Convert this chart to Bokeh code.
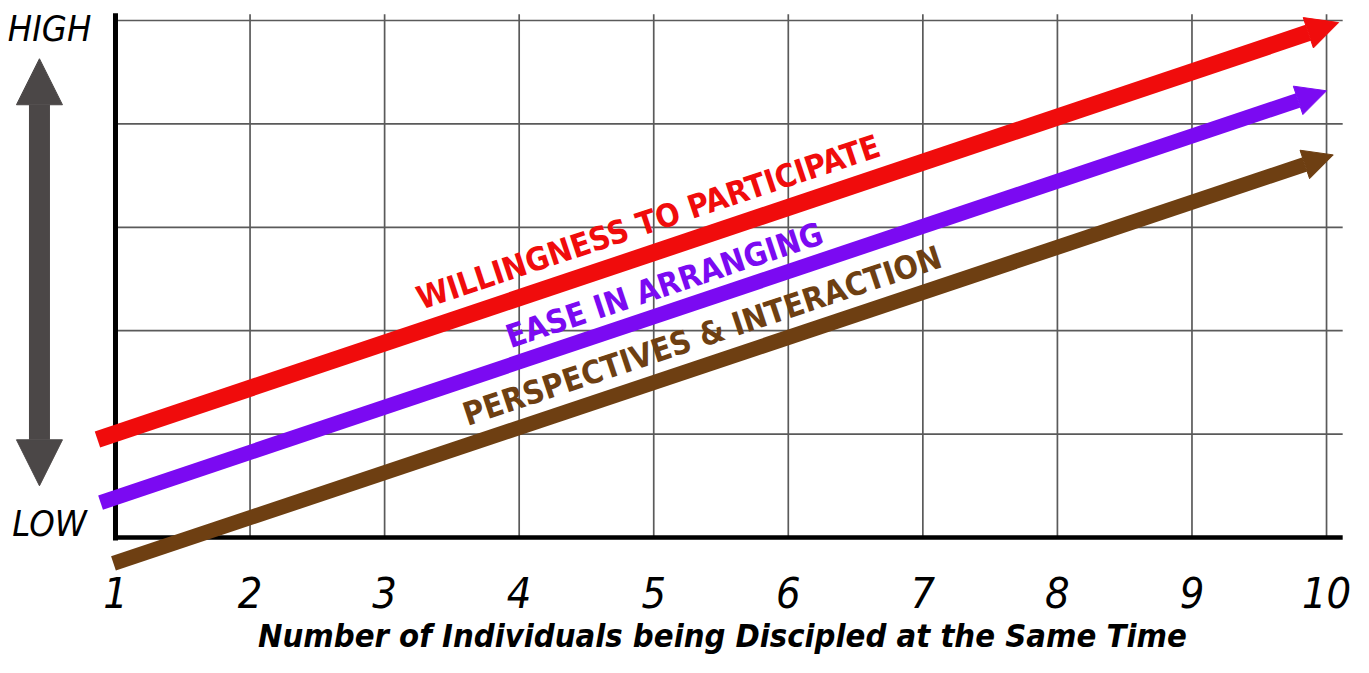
from bokeh.plotting import figure
from bokeh.models import Arrow, NormalHead, Range1d, ColumnDataSource
from bokeh.embed import file_html
from bokeh.resources import INLINE
from bokeh.core.properties import value

# ---- data ----
x_ticks = [1, 2, 3, 4, 5, 6, 7, 8, 9, 10]
tick_labels = ["1", "2", "3", "4", "5", "6", "7", "8", "9", "10"]
y_levels = [0, 1, 2, 3, 4, 5]

series_names = ["WILLINGNESS TO PARTICIPATE", "EASE IN ARRANGING", "PERSPECTIVES & INTERACTION"]
series_colors = ["#f00c0c", "#7b0af2", "#6e3f12"]
x_start = [0.866, 0.889, 0.985]
y_start = [0.948, 0.338, -0.251]
x_end = [10.09, 10.00, 10.05]
y_end = [4.98, 4.32, 3.70]
line_widths = [17, 15, 15]
head_sizes = [32, 30, 30]
label_x = [4.96, 5.08, 5.36]
label_y = [3.05, 2.44, 1.95]

level_labels = ["HIGH", "LOW"]
level_label_y = [4.927, 0.140]
x_title = "Number of Individuals being Discipled at the Same Time"

W, H = 1353, 657
p = figure(width=W, height=H, output_backend="svg", toolbar_location=None,
           x_range=Range1d(0.1454, 10.2004), y_range=Range1d(-1.1606, 5.1934),
           min_border=0, x_axis_type=None, y_axis_type=None)
p.outline_line_color = None
p.grid.visible = False

x_over = 0.12   # grid overhang to the right
y_over = 0.06   # grid overhang to the top

# grid lines
p.segment(x0=x_ticks[1:], y0=[y_levels[0]] * 9, x1=x_ticks[1:], y1=[y_levels[-1] + y_over] * 9,
          line_color="#5a5a5a", line_width=1.7)
p.segment(x0=[x_ticks[0]] * 5, y0=y_levels[1:], x1=[x_ticks[-1] + x_over] * 5, y1=y_levels[1:],
          line_color="#5a5a5a", line_width=1.7)
# axes
p.segment(x0=[x_ticks[0]], y0=[y_levels[0] - 0.03], x1=[x_ticks[0]], y1=[y_levels[-1] + 0.07],
          line_color="black", line_width=5)
p.segment(x0=[x_ticks[0] - 0.015], y0=[y_levels[0]], x1=[x_ticks[-1] + x_over], y1=[y_levels[0]],
          line_color="black", line_width=4.5)

# tick labels
p.text(x=x_ticks, y=[-0.532] * len(x_ticks), text=tick_labels,
       text_font=value("DejaVu Sans Condensed"), text_font_style="italic",
       text_font_size="43px", text_color="black", text_align="center", text_baseline="middle")

# HIGH / LOW
p.text(x=[0.51, 0.51], y=level_label_y, text=level_labels,
       text_font=value("DejaVu Sans Condensed"), text_font_style="italic",
       text_font_size="36px", text_color="black", text_align="center", text_baseline="middle")

# axis title
p.text(x=[5.51], y=[-0.948], text=[x_title],
       text_font=value("DejaVu Sans Condensed"), text_font_style="bold italic",
       text_font_size="32.5px", text_color="black", text_align="center", text_baseline="middle")

# series labels
src = ColumnDataSource(dict(x=label_x, y=label_y, text=series_names, color=series_colors))
p.text(x="x", y="y", text="text", text_color="color", source=src, angle=0.323,
       text_font=value("DejaVu Sans Condensed"), text_font_style="bold",
       text_font_size="32px", text_align="center", text_baseline="middle")

# double arrow HIGH-LOW
gray = "#4b4747"
p.add_layout(Arrow(x_start=0.435, y_start=0.50, x_end=0.435, y_end=4.63,
                   line_color=gray, line_width=21,
                   start=NormalHead(size=46, fill_color=gray, line_color=gray, line_width=1),
                   end=NormalHead(size=46, fill_color=gray, line_color=gray, line_width=1)))

# series arrows
for i in range(len(series_names)):
    c = series_colors[i]
    p.add_layout(Arrow(x_start=x_start[i], y_start=y_start[i], x_end=x_end[i], y_end=y_end[i],
                       line_color=c, line_width=line_widths[i],
                       end=NormalHead(size=head_sizes[i], fill_color=c, line_color=c, line_width=1)))

open("out.html", "w").write(file_html(p, INLINE))
